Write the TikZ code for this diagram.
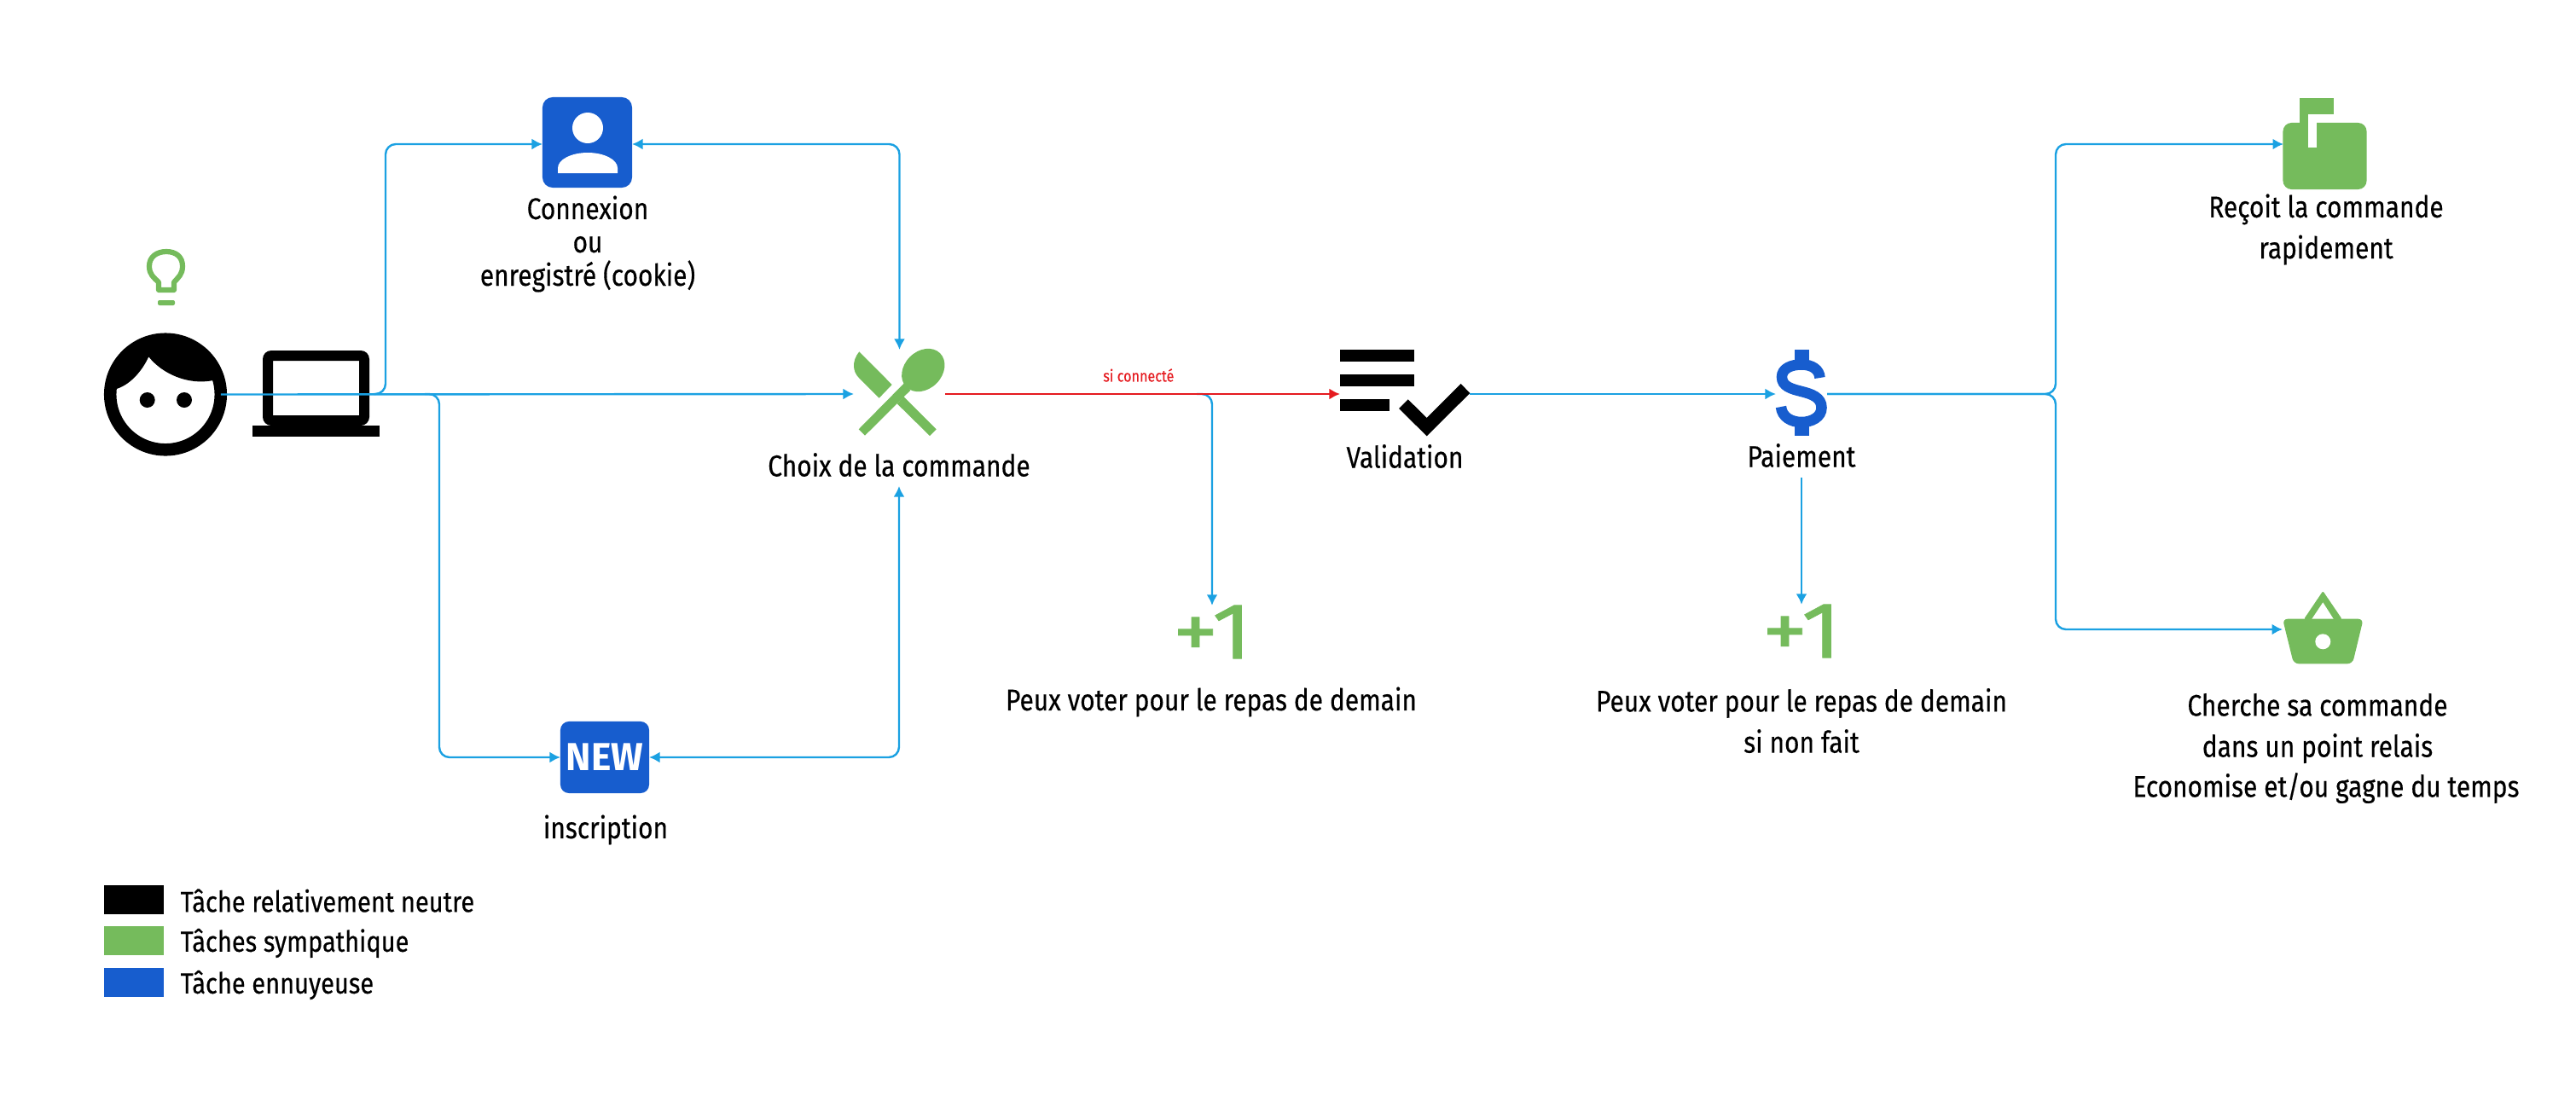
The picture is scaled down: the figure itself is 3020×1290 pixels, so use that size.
\documentclass[tikz,border=0pt]{standalone}
\usepackage{fontspec}
\setmainfont[FakeStretch=0.85,FakeBold=0.35]{Fira Sans}
\newfontfamily\votefont[FakeStretch=1.15,FakeBold=0.8]{Fira Sans}
\newfontfamily\badgefont[FakeStretch=0.97]{Fira Sans}
\usetikzlibrary{arrows.meta}
\definecolor{flowblue}{HTML}{1BA1E2}
\definecolor{flowred}{HTML}{E51A1F}
\definecolor{taskblue}{HTML}{175DCE}
\definecolor{taskgreen}{HTML}{75BB5C}
\tikzset{
  flow/.style={draw=flowblue,line width=0.024cm,rounded corners=0.12cm,-{Latex[length=0.125cm,width=0.13cm]}},
  flowboth/.style={flow,{Latex[length=0.125cm,width=0.13cm]}-{Latex[length=0.125cm,width=0.13cm]}},
  flowif/.style={flow,draw=flowred,-{Latex[length=0.125cm,width=0.13cm,flowred]}},
  icon/.style={inner sep=0pt,outer sep=0pt},
  label/.style={inner sep=0pt,outer sep=0pt,align=center,font=\fontsize{10}{13.7}\selectfont},
  legendbox/.style={inner sep=0pt,outer sep=0pt,minimum width=0.7cm,minimum height=0.34cm},
  legendtext/.style={inner sep=0pt,anchor=west,font=\fontsize{9.7}{11}\selectfont},
  voteicon/.style={inner sep=0pt,outer sep=0pt,text=taskgreen,font=\fontsize{26.5}{26.5}\votefont},
}
\begin{document}
\begin{tikzpicture}[x=0.01cm,y=-0.01cm]
  \useasboundingbox (0,0) rectangle (3020,1290);

  \draw[taskgreen,line width=0.062cm,line join=round]
     (186,340) -- (186,331) .. controls (180,325) and (175,322) .. (175,312)
     .. controls (175,301) and (184,295) .. (195,295)
     .. controls (206,295) and (214,301) .. (214,312)
     .. controls (214,322) and (209,325) .. (204,331) -- (204,340) -- cycle;
  \fill[taskgreen,rounded corners=0.02cm] (185,352) rectangle (205,358);

  \node[icon,circle,draw=black,line width=0.145cm,minimum size=1.295cm] (head) at (194,462.5) {};
  \fill (136.7,456) .. controls (155,450) and (168,432) .. (174.3,418.3)
     .. controls (190,438) and (220,452) .. (250,446) -- (250,440)
     .. controls (240,415) and (215,400) .. (194,400)
     .. controls (170,400) and (135,420) .. (136.7,456) -- cycle;
  \fill (172.7,469) circle(9);
  \fill (216,469) circle(9);

  \node[icon,minimum width=1.49cm,minimum height=1.01cm] (laptop) at (370.5,461.5) {};
  \fill[even odd rule] [rounded corners=0.1cm] (308,411) rectangle (433,499)
     [sharp corners] (320,423) rectangle (421,487);
  \fill (296,499) rectangle (445,512);

  \node[icon,fill=taskblue,rounded corners=0.12cm,minimum width=1.05cm,minimum height=1.06cm] (login) at (688.5,167) {};
  \fill[white] (689,150) circle(18);
  \fill[white] (654,203) -- (654,197) .. controls (654,187) and (670,179) .. (689,179)
     .. controls (708,179) and (724,187) .. (724,197) -- (724,203) -- cycle;
  \coordinate (loginin) at (636,169);
  \coordinate (loginout) at (741,169);
  \node[label,font=\fontsize{10}{11.1}\selectfont] (loginlabel) at (689,286) {Connexion\\ou\\enregistré (cookie)};

  \node[icon,fill=taskblue,rounded corners=0.1cm,minimum width=1.04cm,minimum height=0.84cm,
        text=white,font=\fontsize{13}{13}\badgefont\bfseries] (signup) at (709,888) {NEW};
  \node[label] (signuplabel) at (710,973) {inscription};

  \node[icon,minimum width=1.07cm,minimum height=1.04cm] (choice) at (1054.5,462) {};
  \fill[taskgreen] (1007.3,412.3) -- (1045.7,451) -- (1030.7,466.7) -- (1006.7,442.7)
     .. controls (1000,436) and (998,424) .. (1007.3,412.3) -- cycle;
  \fill[taskgreen] (1059.3,465) -- (1097.7,503.3) -- (1090,511) -- (1051.7,473.3) -- cycle;
  \fill[taskgreen] (1006.7,503.3) -- (1014,510.7) -- (1067.3,457.7) -- (1060,449.3) -- cycle;
  \fill[taskgreen,rotate around={45:(1082.3,434)}] (1082.3,434) ellipse (28 and 22);
  \node[label] (choicelabel) at (1054,545) {Choix de la commande};
  \coordinate (choicebelow) at (1054,570);

  \node[icon,minimum width=1.52cm,minimum height=1.02cm] (check) at (1647,462) {};
  \fill (1571,410) rectangle (1658,424.3);
  \fill (1571,439) rectangle (1658,453.3);
  \fill (1571,468) rectangle (1629,482.3);
  \fill (1640,479) -- (1672.7,511.3) -- (1723.3,461) -- (1712.7,450) -- (1672.7,490) -- (1650.7,468.3) -- cycle;
  \node[label] (checklabel) at (1647,535) {Validation};

  \node[icon,minimum width=0.6cm,minimum height=1.02cm] (pay) at (2112,462) {};
  \fill[taskblue] (2104,410) rectangle (2121,424);
  \fill[taskblue] (2104,497) rectangle (2121,511.3);
  \draw[taskblue,line width=0.125cm] (2133.5,443) .. controls (2133,433) and (2124,427.5) .. (2112,427.5)
     .. controls (2100,427.5) and (2089,432) .. (2089,442)
     .. controls (2089,453) and (2100,456) .. (2112,459)
     .. controls (2124,462) and (2135.5,466) .. (2135.5,478)
     .. controls (2135.5,489) and (2124,495) .. (2112,495)
     .. controls (2100,495) and (2089,489) .. (2088,477);
  \node[label] (paylabel) at (2112,534) {Paiement};
  \coordinate (paybelow) at (2112,560);

  \node[voteicon] (vote) at (1421,741) {+1};
  \node[label] (votelabel) at (1420,823) {Peux voter pour le repas de demain};
  \node[voteicon] (votepay) at (2112,740) {+1};
  \node[label] (votepaylabel) at (2112,845) {Peux voter pour le repas de demain\\si non fait};

  \node[icon,fill=taskgreen,rounded corners=0.1cm,minimum width=0.98cm,minimum height=0.78cm] (mailbox) at (2725.5,183) {};
  \fill[taskgreen] (2696.3,114.7) rectangle (2735.7,134);
  \fill[taskgreen] (2696.3,134) rectangle (2706.3,145);
  \fill[white] (2706.3,134) rectangle (2716,173.3);
  \coordinate (mailboxin) at (2677,169);
  \node[label] (mailboxlabel) at (2727,269) {Reçoit la commande\\rapidement};

  \node[icon,minimum width=0.95cm,minimum height=0.85cm] (basket) at (2723.5,736.5) {};
  \fill[taskgreen,even odd rule,rounded corners=0.02cm] (2701,726) -- (2723.3,693) -- (2745.7,726) -- cycle
     [sharp corners] (2710,726) -- (2723.3,706) -- (2736,726) -- cycle;
  \fill[taskgreen,rounded corners=0.06cm] (2676,725.7) -- (2770.7,725.7) -- (2758,778.3) -- (2689,778.3) -- cycle;
  \fill[white] (2723.3,752.3) circle(9);
  \coordinate (basketin) at (2676,738);
  \node[label] (basketlabel) at (2717,854) {Cherche sa commande\\dans un point relais};
  \node[label] (basketsave) at (2727,924) {Economise et/ou gagne du temps};

  \coordinate (upfork) at (438,462);
  \coordinate (upturn) at (452,169);
  \coordinate (downfork) at (498,462);
  \coordinate (downturn) at (515,888);
  \coordinate (votefork) at (1403,462);
  \coordinate (mailturn) at (2410,169);
  \coordinate (basketturn) at (2410,738);

  \draw[flow] (upfork) -| (upturn) -- (loginin);
  \draw[flow] (downfork) -| (downturn) -- (signup.west);
  \draw[flow] (head.east) -- (choice.west);
  \draw[flowboth] (loginout) -| (choice.north);
  \draw[flowboth] (signup.east) -| (choicebelow);
  \draw[flow] (votefork) -| (vote.north);
  \draw[flowif] (choice.east) -- node[inner sep=0pt,pos=0.49,yshift=0.22cm,text=flowred,font=\fontsize{5.4}{5}\selectfont] (iflabel) {si connecté} (check.west);
  \draw[flow] (check.east) -- (pay.west);
  \draw[flow] (pay.east) -| (mailturn) -- (mailboxin);
  \draw[flow] (pay.east) -| (basketturn) -- (basketin);
  \draw[flow] (paybelow) -- (votepay.north);

  \node[legendbox,fill=black] (legendneutral) at (157,1055) {};
  \node[legendbox,fill=taskgreen] (legendnice) at (157,1103) {};
  \node[legendbox,fill=taskblue] (legendboring) at (157,1152) {};
  \node[legendtext] (textneutral) at (211,1056) {Tâche relativement neutre};
  \node[legendtext] (textnice) at (211,1106) {Tâches sympathique};
  \node[legendtext] (textboring) at (211,1155) {Tâche ennuyeuse};
\end{tikzpicture}
\end{document}
